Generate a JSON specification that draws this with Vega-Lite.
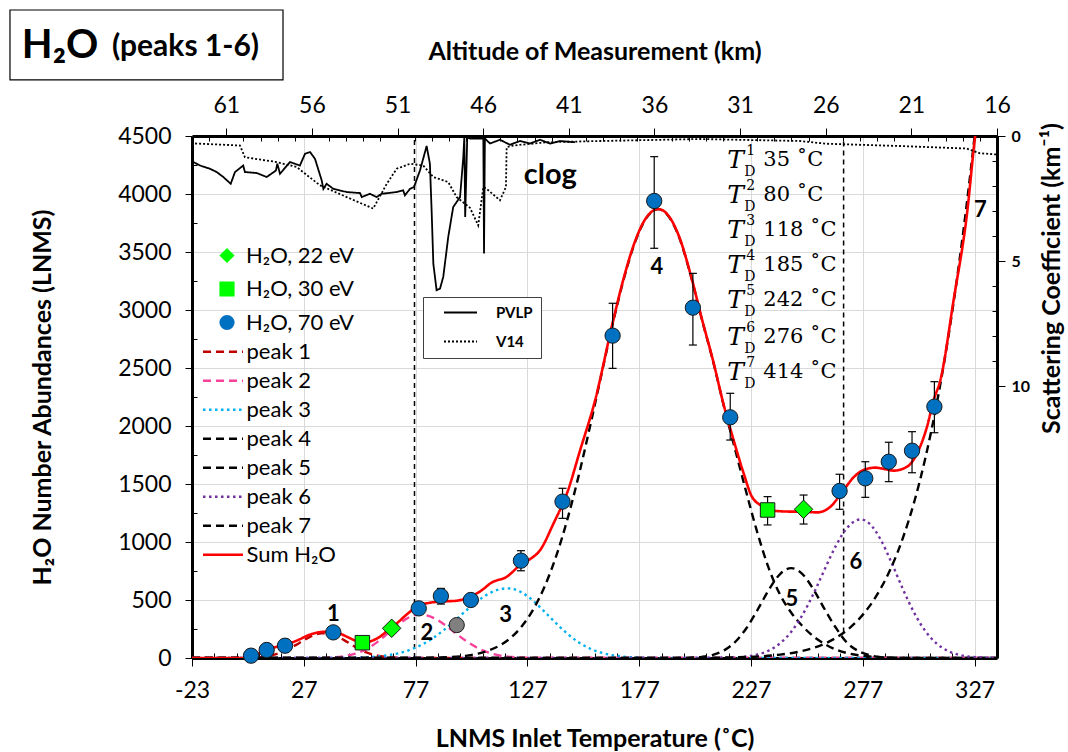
{
"$schema": "https://vega.github.io/schema/vega-lite/v6.json",
"width": 805, "height": 522,
"autosize": {"type": "none"},
"padding": {"left": 192, "top": 136, "right": 71, "bottom": 94},
"background": "white",
"config": {
  "view": {"stroke": null},
  "font": "Lato",
  "axis": {"labelFont": "Lato", "titleFont": "Lato", "labelColor": "black", "titleColor": "black", "domainColor": "black", "domainWidth": 3, "tickColor": "black", "tickWidth": 1, "labelFlush": false, "labelOverlap": false, "labelBound": false, "titleFontWeight": "bold", "titleFontSize": 25, "labelFontSize": 23},
  "legend": {"labelFont": "Lato", "labelColor": "black"}
},
"datasets": {
  "curves": [
    {"s":"peak 1","T":-23,"v":0},{"s":"peak 1","T":0,"v":0},{"s":"peak 1","T":5,"v":4},{"s":"peak 1","T":10,"v":13},{"s":"peak 1","T":15,"v":35},{"s":"peak 1","T":20,"v":75},{"s":"peak 1","T":25,"v":130},{"s":"peak 1","T":30,"v":185},{"s":"peak 1","T":35,"v":214},{"s":"peak 1","T":40,"v":201},{"s":"peak 1","T":45,"v":154},{"s":"peak 1","T":50,"v":96},{"s":"peak 1","T":55,"v":48},{"s":"peak 1","T":60,"v":20},{"s":"peak 1","T":65,"v":7},{"s":"peak 1","T":70,"v":2},{"s":"peak 1","T":75,"v":0},{"s":"peak 1","T":337,"v":0},
    {"s":"peak 2","T":-23,"v":0},{"s":"peak 2","T":30,"v":0},{"s":"peak 2","T":35,"v":1},{"s":"peak 2","T":40,"v":6},{"s":"peak 2","T":45,"v":16},{"s":"peak 2","T":50,"v":37},{"s":"peak 2","T":55,"v":77},{"s":"peak 2","T":60,"v":139},{"s":"peak 2","T":65,"v":219},{"s":"peak 2","T":70,"v":300},{"s":"peak 2","T":75,"v":359},{"s":"peak 2","T":79,"v":375},{"s":"peak 2","T":85,"v":346},{"s":"peak 2","T":90,"v":287},{"s":"peak 2","T":95,"v":212},{"s":"peak 2","T":100,"v":141},{"s":"peak 2","T":105,"v":84},{"s":"peak 2","T":110,"v":44},{"s":"peak 2","T":115,"v":21},{"s":"peak 2","T":120,"v":9},{"s":"peak 2","T":125,"v":3},{"s":"peak 2","T":130,"v":0},{"s":"peak 2","T":337,"v":0},
    {"s":"peak 3","T":-23,"v":0},{"s":"peak 3","T":45,"v":0},{"s":"peak 3","T":50,"v":3},{"s":"peak 3","T":55,"v":7},{"s":"peak 3","T":60,"v":13},{"s":"peak 3","T":65,"v":25},{"s":"peak 3","T":70,"v":44},{"s":"peak 3","T":75,"v":74},{"s":"peak 3","T":80,"v":117},{"s":"peak 3","T":85,"v":175},{"s":"peak 3","T":90,"v":247},{"s":"peak 3","T":95,"v":329},{"s":"peak 3","T":100,"v":416},{"s":"peak 3","T":105,"v":495},{"s":"peak 3","T":110,"v":558},{"s":"peak 3","T":115,"v":594},{"s":"peak 3","T":118,"v":600},{"s":"peak 3","T":120,"v":597},{"s":"peak 3","T":125,"v":559},{"s":"peak 3","T":130,"v":486},{"s":"peak 3","T":135,"v":393},{"s":"peak 3","T":140,"v":296},{"s":"peak 3","T":145,"v":207},{"s":"peak 3","T":150,"v":134},{"s":"peak 3","T":155,"v":81},{"s":"peak 3","T":160,"v":46},{"s":"peak 3","T":165,"v":24},{"s":"peak 3","T":170,"v":12},{"s":"peak 3","T":175,"v":5},{"s":"peak 3","T":180,"v":2},{"s":"peak 3","T":185,"v":0},{"s":"peak 3","T":337,"v":0},
    {"s":"peak 4","T":-23,"v":0},{"s":"peak 4","T":80,"v":0},{"s":"peak 4","T":90,"v":6},{"s":"peak 4","T":100,"v":21},{"s":"peak 4","T":105,"v":38},{"s":"peak 4","T":110,"v":67},{"s":"peak 4","T":115,"v":112},{"s":"peak 4","T":120,"v":182},{"s":"peak 4","T":125,"v":286},{"s":"peak 4","T":130,"v":432},{"s":"peak 4","T":135,"v":630},{"s":"peak 4","T":140,"v":886},{"s":"peak 4","T":145,"v":1204},{"s":"peak 4","T":150,"v":1578},{"s":"peak 4","T":155,"v":1996},{"s":"peak 4","T":160,"v":2436},{"s":"peak 4","T":165,"v":2869},{"s":"peak 4","T":170,"v":3261},{"s":"peak 4","T":175,"v":3578},{"s":"peak 4","T":180,"v":3788},{"s":"peak 4","T":185.5,"v":3870},{"s":"peak 4","T":190,"v":3810},{"s":"peak 4","T":195,"v":3620},{"s":"peak 4","T":200,"v":3300},{"s":"peak 4","T":205,"v":2920},{"s":"peak 4","T":210,"v":2560},{"s":"peak 4","T":215,"v":2160},{"s":"peak 4","T":220,"v":1790},{"s":"peak 4","T":225,"v":1420},{"s":"peak 4","T":230,"v":1070},{"s":"peak 4","T":235,"v":770},{"s":"peak 4","T":240,"v":545},{"s":"peak 4","T":245,"v":390},{"s":"peak 4","T":250,"v":275},{"s":"peak 4","T":255,"v":185},{"s":"peak 4","T":260,"v":120},{"s":"peak 4","T":265,"v":72},{"s":"peak 4","T":270,"v":42},{"s":"peak 4","T":275,"v":24},{"s":"peak 4","T":280,"v":13},{"s":"peak 4","T":290,"v":3},{"s":"peak 4","T":300,"v":0},{"s":"peak 4","T":337,"v":0},
    {"s":"peak 5","T":-23,"v":0},{"s":"peak 5","T":195,"v":0},{"s":"peak 5","T":200,"v":3},{"s":"peak 5","T":205,"v":10},{"s":"peak 5","T":210,"v":27},{"s":"peak 5","T":215,"v":66},{"s":"peak 5","T":220,"v":140},{"s":"peak 5","T":225,"v":259},{"s":"peak 5","T":230,"v":418},{"s":"peak 5","T":235,"v":589},{"s":"peak 5","T":240,"v":724},{"s":"peak 5","T":245,"v":775},{"s":"peak 5","T":250,"v":724},{"s":"peak 5","T":255,"v":589},{"s":"peak 5","T":260,"v":418},{"s":"peak 5","T":265,"v":259},{"s":"peak 5","T":270,"v":130},{"s":"peak 5","T":275,"v":60},{"s":"peak 5","T":280,"v":24},{"s":"peak 5","T":285,"v":8},{"s":"peak 5","T":290,"v":2},{"s":"peak 5","T":295,"v":0},{"s":"peak 5","T":337,"v":0},
    {"s":"peak 6","T":-23,"v":0},{"s":"peak 6","T":210,"v":0},{"s":"peak 6","T":215,"v":2},{"s":"peak 6","T":220,"v":5},{"s":"peak 6","T":225,"v":13},{"s":"peak 6","T":230,"v":31},{"s":"peak 6","T":235,"v":65},{"s":"peak 6","T":240,"v":127},{"s":"peak 6","T":245,"v":227},{"s":"peak 6","T":250,"v":371},{"s":"peak 6","T":255,"v":557},{"s":"peak 6","T":260,"v":767},{"s":"peak 6","T":265,"v":969},{"s":"peak 6","T":270,"v":1123},{"s":"peak 6","T":276,"v":1195},{"s":"peak 6","T":280,"v":1158},{"s":"peak 6","T":285,"v":1020},{"s":"peak 6","T":290,"v":815},{"s":"peak 6","T":295,"v":590},{"s":"peak 6","T":300,"v":388},{"s":"peak 6","T":305,"v":231},{"s":"peak 6","T":310,"v":125},{"s":"peak 6","T":315,"v":61},{"s":"peak 6","T":320,"v":27},{"s":"peak 6","T":325,"v":11},{"s":"peak 6","T":330,"v":4},{"s":"peak 6","T":337,"v":1},
    {"s":"peak 7","T":-23,"v":0},{"s":"peak 7","T":180,"v":0},{"s":"peak 7","T":200,"v":1},{"s":"peak 7","T":220,"v":6},{"s":"peak 7","T":230,"v":13},{"s":"peak 7","T":240,"v":29},{"s":"peak 7","T":250,"v":61},{"s":"peak 7","T":260,"v":124},{"s":"peak 7","T":265,"v":174},{"s":"peak 7","T":270,"v":241},{"s":"peak 7","T":275,"v":330},{"s":"peak 7","T":280,"v":447},{"s":"peak 7","T":285,"v":600},{"s":"peak 7","T":290,"v":793},{"s":"peak 7","T":295,"v":1040},{"s":"peak 7","T":300,"v":1347},{"s":"peak 7","T":305,"v":1727},{"s":"peak 7","T":310,"v":2187},{"s":"peak 7","T":315,"v":2741},{"s":"peak 7","T":320,"v":3394},{"s":"peak 7","T":325,"v":4161},{"s":"peak 7","T":330,"v":5043},
    {"s":"Sum H₂O","T":-23,"v":0},{"s":"Sum H₂O","T":0,"v":0},{"s":"Sum H₂O","T":2,"v":3},{"s":"Sum H₂O","T":5,"v":25},{"s":"Sum H₂O","T":10.4,"v":69},{"s":"Sum H₂O","T":15,"v":98},{"s":"Sum H₂O","T":20.8,"v":127},{"s":"Sum H₂O","T":25,"v":160},{"s":"Sum H₂O","T":29,"v":196},{"s":"Sum H₂O","T":32.8,"v":218},{"s":"Sum H₂O","T":36,"v":226},{"s":"Sum H₂O","T":40.2,"v":227},{"s":"Sum H₂O","T":43,"v":212},{"s":"Sum H₂O","T":46.2,"v":184},{"s":"Sum H₂O","T":50,"v":150},{"s":"Sum H₂O","T":53.6,"v":127},{"s":"Sum H₂O","T":57,"v":145},{"s":"Sum H₂O","T":61.1,"v":184},{"s":"Sum H₂O","T":64.5,"v":238},{"s":"Sum H₂O","T":68.6,"v":299},{"s":"Sum H₂O","T":73,"v":375},{"s":"Sum H₂O","T":77.5,"v":442},{"s":"Sum H₂O","T":83.5,"v":477},{"s":"Sum H₂O","T":90,"v":488},{"s":"Sum H₂O","T":95.4,"v":494},{"s":"Sum H₂O","T":101.4,"v":528},{"s":"Sum H₂O","T":105.9,"v":575},{"s":"Sum H₂O","T":111,"v":650},{"s":"Sum H₂O","T":117.8,"v":701},{"s":"Sum H₂O","T":124,"v":805},{"s":"Sum H₂O","T":128,"v":850},{"s":"Sum H₂O","T":132.7,"v":931},{"s":"Sum H₂O","T":138.7,"v":1161},{"s":"Sum H₂O","T":144.7,"v":1420},{"s":"Sum H₂O","T":150.6,"v":1793},{"s":"Sum H₂O","T":157.3,"v":2224},{"s":"Sum H₂O","T":165,"v":2880},{"s":"Sum H₂O","T":170,"v":3270},{"s":"Sum H₂O","T":175,"v":3585},{"s":"Sum H₂O","T":180,"v":3792},{"s":"Sum H₂O","T":185.5,"v":3870},{"s":"Sum H₂O","T":190,"v":3815},{"s":"Sum H₂O","T":195,"v":3625},{"s":"Sum H₂O","T":200,"v":3305},{"s":"Sum H₂O","T":205,"v":2925},{"s":"Sum H₂O","T":210,"v":2565},{"s":"Sum H₂O","T":215,"v":2165},{"s":"Sum H₂O","T":219.2,"v":1879},{"s":"Sum H₂O","T":223.7,"v":1592},{"s":"Sum H₂O","T":227.4,"v":1391},{"s":"Sum H₂O","T":232.6,"v":1304},{"s":"Sum H₂O","T":236,"v":1272},{"s":"Sum H₂O","T":240.1,"v":1265},{"s":"Sum H₂O","T":245,"v":1262},{"s":"Sum H₂O","T":250,"v":1262},{"s":"Sum H₂O","T":256.5,"v":1255},{"s":"Sum H₂O","T":262.5,"v":1304},{"s":"Sum H₂O","T":268.4,"v":1448},{"s":"Sum H₂O","T":273,"v":1560},{"s":"Sum H₂O","T":277.4,"v":1621},{"s":"Sum H₂O","T":282.6,"v":1641},{"s":"Sum H₂O","T":287,"v":1628},{"s":"Sum H₂O","T":290.8,"v":1615},{"s":"Sum H₂O","T":296.8,"v":1649},{"s":"Sum H₂O","T":301.3,"v":1765},{"s":"Sum H₂O","T":305.7,"v":1994},{"s":"Sum H₂O","T":308.7,"v":2224},{"s":"Sum H₂O","T":311.7,"v":2397},{"s":"Sum H₂O","T":317.6,"v":3086},{"s":"Sum H₂O","T":323.6,"v":3833},{"s":"Sum H₂O","T":327.3,"v":4509},{"s":"Sum H₂O","T":330,"v":4850}
  ],
  "pts": [
    {"src":"H₂O, 70 eV","T":3.4,"v":20},{"src":"H₂O, 70 eV","T":10.4,"v":69},{"src":"H₂O, 70 eV","T":18.6,"v":106},{"src":"H₂O, 70 eV","T":40.2,"v":221},{"src":"H₂O, 70 eV","T":78.4,"v":428},{"src":"H₂O, 70 eV","T":88.3,"v":534},{"src":"H₂O, 70 eV","T":101.7,"v":500},{"src":"H₂O, 70 eV","T":124.1,"v":839},{"src":"H₂O, 70 eV","T":142.7,"v":1348},{"src":"H₂O, 70 eV","T":165.1,"v":2779},{"src":"H₂O, 70 eV","T":183.7,"v":3940},{"src":"H₂O, 70 eV","T":201,"v":3020},{"src":"H₂O, 70 eV","T":217.7,"v":2075},{"src":"H₂O, 70 eV","T":266.6,"v":1440},{"src":"H₂O, 70 eV","T":278.1,"v":1549},{"src":"H₂O, 70 eV","T":288.6,"v":1692},{"src":"H₂O, 70 eV","T":299,"v":1787},{"src":"H₂O, 70 eV","T":309,"v":2167},
    {"src":"H₂O, 22 eV","T":66.3,"v":256},{"src":"H₂O, 22 eV","T":250.5,"v":1282},
    {"src":"H₂O, 30 eV","T":53.2,"v":132},{"src":"H₂O, 30 eV","T":234.4,"v":1276}
  ],
  "err": [
    {"T":88.3,"lo":465,"hi":600},{"T":124.1,"lo":752,"hi":925},{"T":142.7,"lo":1204,"hi":1463},{"T":165.1,"lo":2497,"hi":3058},{"T":183.7,"lo":3532,"hi":4322},{"T":201,"lo":2698,"hi":3316},{"T":217.7,"lo":1879,"hi":2282},{"T":266.6,"lo":1282,"hi":1584},{"T":278.1,"lo":1385,"hi":1692},{"T":288.6,"lo":1520,"hi":1860},{"T":299,"lo":1597,"hi":1951},{"T":309,"lo":1942,"hi":2382},{"T":234.4,"lo":1147,"hi":1391},{"T":250.5,"lo":1155,"hi":1405}
  ],
  "gray": [{"T":95.4,"v":284}],
  "vl": [{"T":76.5,"v":0,"v2":4500},{"T":268.4,"v":220,"v2":4500}],
  "ann": [{"t":"1","T":40.2,"v":380},{"t":"2","T":82,"v":215},{"t":"3","T":117.2,"v":375},{"t":"4","T":184.9,"v":3373},{"t":"5","T":245.3,"v":505},{"t":"6","T":273.9,"v":830},{"t":"7","T":329.6,"v":3860}],
  "td": [{"n":"1","val":"35 ˚C","T":216.4,"v":4293},{"n":"2","val":"80 ˚C","T":216.4,"v":3991},{"n":"3","val":"118 ˚C","T":216.4,"v":3690},{"n":"4","val":"185 ˚C","T":216.4,"v":3388},{"n":"5","val":"242 ˚C","T":216.4,"v":3086},{"n":"6","val":"276 ˚C","T":216.4,"v":2770},{"n":"7","val":"414 ˚C","T":216.4,"v":2468}],
  "prof": [
    {"p":"PVLP","alt":62.92,"sc":1.04},{"p":"PVLP","alt":62.53,"sc":1.18},{"p":"PVLP","alt":61.95,"sc":1.31},{"p":"PVLP","alt":61.56,"sc":1.44},{"p":"PVLP","alt":61.17,"sc":1.64},{"p":"PVLP","alt":60.74,"sc":1.91},{"p":"PVLP","alt":60.49,"sc":1.44},{"p":"PVLP","alt":60.01,"sc":1.18},{"p":"PVLP","alt":59.91,"sc":1.44},{"p":"PVLP","alt":59.22,"sc":1.48},{"p":"PVLP","alt":58.64,"sc":1.64},{"p":"PVLP","alt":58.10,"sc":1.38},{"p":"PVLP","alt":58.02,"sc":1.11},{"p":"PVLP","alt":57.86,"sc":1.51},{"p":"PVLP","alt":57.28,"sc":1.04},{"p":"PVLP","alt":56.70,"sc":1.18},{"p":"PVLP","alt":56.40,"sc":0.71},{"p":"PVLP","alt":56.11,"sc":0.64},{"p":"PVLP","alt":55.82,"sc":0.91},{"p":"PVLP","alt":55.43,"sc":1.77},{"p":"PVLP","alt":55.33,"sc":2.11},{"p":"PVLP","alt":55.14,"sc":1.91},{"p":"PVLP","alt":54.75,"sc":2.11},{"p":"PVLP","alt":53.97,"sc":2.24},{"p":"PVLP","alt":53.19,"sc":2.28},{"p":"PVLP","alt":53.09,"sc":2.44},{"p":"PVLP","alt":52.61,"sc":2.31},{"p":"PVLP","alt":52.22,"sc":2.44},{"p":"PVLP","alt":51.93,"sc":2.31},{"p":"PVLP","alt":51.05,"sc":2.24},{"p":"PVLP","alt":50.67,"sc":2.17},{"p":"PVLP","alt":50.57,"sc":2.37},{"p":"PVLP","alt":50.27,"sc":2.11},{"p":"PVLP","alt":50.04,"sc":2.04},{"p":"PVLP","alt":49.69,"sc":1.38},{"p":"PVLP","alt":49.30,"sc":0.40},{"p":"PVLP","alt":49.11,"sc":1.11},{"p":"PVLP","alt":49.01,"sc":2.97},{"p":"PVLP","alt":48.91,"sc":5.1},{"p":"PVLP","alt":48.72,"sc":6.16},{"p":"PVLP","alt":48.52,"sc":6.1},{"p":"PVLP","alt":48.33,"sc":5.63},{"p":"PVLP","alt":48.04,"sc":4.04},{"p":"PVLP","alt":47.75,"sc":2.84},{"p":"PVLP","alt":47.35,"sc":2.44},{"p":"PVLP","alt":47.16,"sc":0.85},{"p":"PVLP","alt":47.10,"sc":0.05},{"p":"PVLP","alt":47.05,"sc":3.24},{"p":"PVLP","alt":46.93,"sc":0.05},{"p":"PVLP","alt":46.77,"sc":0.1},{"p":"PVLP","alt":45.99,"sc":0.1},{"p":"PVLP","alt":45.95,"sc":4.7},{"p":"PVLP","alt":45.90,"sc":0.1},{"p":"PVLP","alt":45.6,"sc":0.3},{"p":"PVLP","alt":45.02,"sc":0.15},{"p":"PVLP","alt":44.44,"sc":0.35},{"p":"PVLP","alt":43.85,"sc":0.2},{"p":"PVLP","alt":43.27,"sc":0.3},{"p":"PVLP","alt":42.68,"sc":0.15},{"p":"PVLP","alt":42.1,"sc":0.3},{"p":"PVLP","alt":41.52,"sc":0.2},{"p":"PVLP","alt":40.64,"sc":0.25},
    {"p":"V14","alt":62.82,"sc":0.3},{"p":"V14","alt":61.46,"sc":0.34},{"p":"V14","alt":60.20,"sc":0.38},{"p":"V14","alt":59.91,"sc":0.85},{"p":"V14","alt":58.06,"sc":1.04},{"p":"V14","alt":56.89,"sc":1.24},{"p":"V14","alt":55.53,"sc":1.97},{"p":"V14","alt":53.97,"sc":2.44},{"p":"V14","alt":52.42,"sc":2.9},{"p":"V14","alt":51.63,"sc":1.91},{"p":"V14","alt":51.05,"sc":1.31},{"p":"V14","alt":50.27,"sc":1.11},{"p":"V14","alt":49.50,"sc":1.18},{"p":"V14","alt":48.91,"sc":1.64},{"p":"V14","alt":48.04,"sc":1.84},{"p":"V14","alt":47.55,"sc":2.44},{"p":"V14","alt":46.77,"sc":2.87},{"p":"V14","alt":46.29,"sc":3.57},{"p":"V14","alt":45.99,"sc":2.04},{"p":"V14","alt":45.80,"sc":2.11},{"p":"V14","alt":45.02,"sc":2.57},{"p":"V14","alt":44.67,"sc":2.04},{"p":"V14","alt":44.63,"sc":0.45},{"p":"V14","alt":44.24,"sc":0.38},{"p":"V14","alt":42.29,"sc":0.25},{"p":"V14","alt":39.18,"sc":0.2},{"p":"V14","alt":33.34,"sc":0.12},{"p":"V14","alt":27.51,"sc":0.2},{"p":"V14","alt":25.95,"sc":0.31},{"p":"V14","alt":21.67,"sc":0.4},{"p":"V14","alt":17.78,"sc":0.5},{"p":"V14","alt":17.0,"sc":0.69},{"p":"V14","alt":16.0,"sc":0.74}
  ]
},
"layer": [
  {
    "encoding": {
      "x": {"field": "T", "type": "quantitative", "scale": {"domain": [-23, 337], "nice": false, "zero": false},
        "axis": {"orient": "bottom", "title": "LNMS Inlet Temperature (˚C)", "values": [-23,-13,-3,7,17,27,37,47,57,67,77,87,97,107,117,127,137,147,157,167,177,187,197,207,217,227,237,247,257,267,277,287,297,307,317,327,337],
          "labelExpr": "(datum.value + 23) % 50 == 0 ? '' + datum.value : ''",
          "tickSize": {"condition": {"test": "(datum.value + 23) % 50 == 0", "value": 8}, "value": -5},
          "grid": true, "gridColor": "#D9D9D9", "gridWidth": 1,
          "gridOpacity": {"condition": {"test": "(datum.value + 23) % 50 == 0", "value": 1}, "value": 0},
          "labelPadding": 13, "titlePadding": 24}},
      "y": {"field": "v", "type": "quantitative", "scale": {"domain": [0, 4500], "nice": false, "zero": false},
        "axis": {"orient": "left", "title": "H₂O Number Abundances (LNMS)", "values": [0,250,500,750,1000,1250,1500,1750,2000,2250,2500,2750,3000,3250,3500,3750,4000,4250,4500],
          "labelExpr": "datum.value % 500 == 0 ? '' + datum.value : ''",
          "tickSize": {"condition": {"test": "datum.value % 500 == 0", "value": 7}, "value": -5},
          "grid": true, "gridColor": "#D9D9D9", "gridWidth": 1,
          "gridOpacity": {"condition": {"test": "datum.value % 500 == 0", "value": 1}, "value": 0},
          "labelPadding": 14, "titlePadding": 62}}
    },
    "layer": [
      {"data": {"name": "vl"}, "mark": {"type": "rule", "strokeDash": [5, 4], "strokeWidth": 1.5, "color": "black"}, "encoding": {"y2": {"field": "v2"}}},
      {"data": {"name": "curves"}, "transform": [{"filter": "datum.s != 'Sum H₂O'"}],
        "mark": {"type": "line", "strokeWidth": 2.4, "interpolate": "monotone", "clip": true},
        "encoding": {
          "stroke": {"field": "s", "type": "nominal", "scale": {"domain": ["peak 1","peak 2","peak 3","peak 4","peak 5","peak 6","peak 7","Sum H₂O"], "range": ["#C00000","#F7419B","#00B0F0","#000000","#000000","#7030A0","#000000","#FF0000"]},
            "legend": {"orient": "none", "legendX": 9.5, "legendY": 205.7, "title": null, "symbolType": "stroke", "symbolSize": 1600, "symbolStrokeWidth": 2.4, "labelFontSize": 22, "labelOffset": 2, "rowPadding": 7, "clipHeight": 20, "padding": 0,
              "encode": {"symbols": {"update": {"strokeDash": {"signal": "datum.value == 'peak 3' || datum.value == 'peak 6' ? [2.5, 3.5] : (datum.value == 'Sum H₂O' ? [1, 0] : [8, 5])"}}}}}},
          "strokeDash": {"field": "s", "type": "nominal", "scale": {"domain": ["peak 1","peak 2","peak 3","peak 4","peak 5","peak 6","peak 7","Sum H₂O"], "range": [[8,5],[8,5],[2.5,3.5],[8,5],[8,5],[2.5,3.5],[8,5],[1,0]]}, "legend": null}
        }},
      {"data": {"name": "curves"}, "transform": [{"filter": "datum.s == 'Sum H₂O'"}],
        "mark": {"type": "line", "strokeWidth": 2.6, "interpolate": "monotone", "clip": true},
        "encoding": {
          "stroke": {"field": "s", "type": "nominal"},
          "strokeDash": {"field": "s", "type": "nominal", "legend": null}
        }},
      {"data": {"name": "err"}, "mark": {"type": "errorbar", "ticks": true, "size": 8, "thickness": 1.2, "color": "black", "opacity": 1},
        "encoding": {"y": {"field": "lo", "type": "quantitative"}, "y2": {"field": "hi"}}},
      {"data": {"name": "gray"}, "mark": {"type": "point", "filled": true, "shape": "circle", "size": 230, "fill": "#808080", "stroke": "#1a1a1a", "strokeWidth": 1, "opacity": 1}},
      {"data": {"name": "pts"}, "transform": [{"filter": "datum.src == 'H₂O, 70 eV'"}],
        "mark": {"type": "point", "filled": true, "size": 235, "stroke": "#1a1a1a", "strokeWidth": 1, "opacity": 1},
        "encoding": {
          "fill": {"field": "src", "type": "nominal", "scale": {"domain": ["H₂O, 22 eV","H₂O, 30 eV","H₂O, 70 eV"], "range": ["#00FF00","#00FF00","#0070C0"]},
            "legend": {"orient": "none", "legendX": 24, "legendY": 109.5, "title": null, "symbolSize": 230, "symbolStrokeColor": "#1a1a1a", "symbolStrokeWidth": 1, "labelFontSize": 22, "labelOffset": 8, "rowPadding": 11.5, "clipHeight": 20, "padding": 0}},
          "shape": {"field": "src", "type": "nominal", "scale": {"domain": ["H₂O, 22 eV","H₂O, 30 eV","H₂O, 70 eV"], "range": ["diamond","square","circle"]},
            "legend": {"orient": "none", "legendX": 24, "legendY": 109.5, "title": null, "symbolSize": 230, "symbolStrokeColor": "#1a1a1a", "symbolStrokeWidth": 1, "labelFontSize": 22, "labelOffset": 8, "rowPadding": 11.5, "clipHeight": 20, "padding": 0}}
        }},
      {"data": {"name": "pts"}, "transform": [{"filter": "datum.src == 'H₂O, 30 eV'"}],
        "mark": {"type": "point", "filled": true, "size": 210, "stroke": "#1a1a1a", "strokeWidth": 1, "opacity": 1},
        "encoding": {"fill": {"field": "src", "type": "nominal"}, "shape": {"field": "src", "type": "nominal"}}},
      {"data": {"name": "pts"}, "transform": [{"filter": "datum.src == 'H₂O, 22 eV'"}],
        "mark": {"type": "point", "filled": true, "size": 340, "stroke": "#1a1a1a", "strokeWidth": 1, "opacity": 1},
        "encoding": {"fill": {"field": "src", "type": "nominal"}, "shape": {"field": "src", "type": "nominal"}}},
      {"data": {"name": "ann"}, "mark": {"type": "text", "font": "Lato", "fontWeight": "bold", "fontSize": 22, "align": "center", "baseline": "middle", "color": "black"},
        "encoding": {"text": {"field": "t"}}},
      {"data": {"values": [{"t": "clog", "T": 137.2, "v": 4164}]}, "mark": {"type": "text", "font": "Lato", "fontWeight": "bold", "fontSize": 29, "align": "center", "baseline": "middle", "color": "black"},
        "encoding": {"text": {"field": "t"}}},
      {"data": {"name": "td"}, "mark": {"type": "text", "text": "T", "font": "DejaVu Serif", "fontStyle": "italic", "fontSize": 25, "align": "left", "baseline": "middle", "color": "black"}},
      {"data": {"name": "td"}, "mark": {"type": "text", "font": "DejaVu Serif", "fontSize": 14, "align": "left", "baseline": "middle", "dx": 19, "dy": -9, "color": "black"}, "encoding": {"text": {"field": "n"}}},
      {"data": {"name": "td"}, "mark": {"type": "text", "text": "D", "font": "DejaVu Serif", "fontSize": 14, "align": "left", "baseline": "middle", "dx": 17, "dy": 12, "color": "black"}},
      {"data": {"name": "td"}, "mark": {"type": "text", "font": "DejaVu Serif", "fontSize": 21, "align": "left", "baseline": "middle", "dx": 36, "color": "black"}, "encoding": {"text": {"field": "val"}}},
      {"data": {"values": [{"T": -104.4, "T2": 17.7, "v": 5586, "v2": 4983}]}, "mark": {"type": "rect", "fill": "white", "stroke": "black", "strokeWidth": 1.2},
        "encoding": {"x2": {"field": "T2"}, "y2": {"field": "v2"}}},
      {"data": {"values": [{"t": "H₂O", "T": -99.1, "v": 5172}]}, "mark": {"type": "text", "font": "Lato", "fontWeight": "bold", "fontSize": 40, "align": "left", "baseline": "alphabetic", "color": "black"},
        "encoding": {"text": {"field": "t"}}},
      {"data": {"values": [{"t": "(peaks 1-6)", "T": -58.8, "v": 5190}]}, "mark": {"type": "text", "font": "Lato", "fontWeight": "bold", "fontSize": 30, "align": "left", "baseline": "alphabetic", "color": "black"},
        "encoding": {"text": {"field": "t"}}}
    ]
  },
  {
    "data": {"name": "prof"},
    "encoding": {
      "x": {"field": "alt", "type": "quantitative", "scale": {"domain": [16, 63], "reverse": true, "nice": false, "zero": false},
        "axis": {"orient": "top", "title": "Altitude of Measurement (km)", "values": [16,17,18,19,20,21,22,23,24,25,26,27,28,29,30,31,32,33,34,35,36,37,38,39,40,41,42,43,44,45,46,47,48,49,50,51,52,53,54,55,56,57,58,59,60,61,62],
          "labelExpr": "(datum.value - 16) % 5 == 0 ? '' + datum.value : ''",
          "tickSize": {"condition": {"test": "(datum.value - 16) % 5 == 0", "value": 8}, "value": -5},
          "grid": false, "labelPadding": 11, "titlePadding": 30}},
      "y": {"field": "sc", "type": "quantitative", "scale": {"domain": [0, 20.86], "reverse": true, "nice": false, "zero": false},
        "axis": {"orient": "right", "title": "Scattering Coefficient (km⁻¹)", "values": [0,1,2,3,4,5,6,7,8,9,10],
          "labelExpr": "datum.value % 5 == 0 ? '' + datum.value : ''",
          "tickSize": {"condition": {"test": "datum.value % 5 == 0", "value": 8}, "value": -5},
          "labelFontWeight": "bold", "labelFontSize": 16, "grid": false, "labelPadding": 6,
          "titleAngle": 270, "titleBaseline": "top", "titleAlign": "center", "titleY": 142, "titlePadding": 10}}
    },
    "layer": [
      {"mark": {"type": "line", "color": "black", "strokeWidth": 1.8, "clip": true},
        "encoding": {"strokeDash": {"field": "p", "type": "nominal", "scale": {"domain": ["PVLP", "V14"], "range": [[1, 0], [2, 2]]},
          "legend": {"orient": "none", "legendX": 231, "legendY": 161, "title": null, "strokeColor": "#404040", "fillColor": "white", "padding": 8, "labelFontWeight": "bold", "labelFontSize": 15, "symbolType": "stroke", "symbolSize": 1089, "symbolStrokeWidth": 1.8, "symbolStrokeColor": "black", "symbolOffset": 12, "labelOffset": 18, "rowPadding": 13, "clipHeight": 15}}}}
    ]
  }
],
"resolve": {"scale": {"x": "independent", "y": "independent", "strokeDash": "independent"}}
}
